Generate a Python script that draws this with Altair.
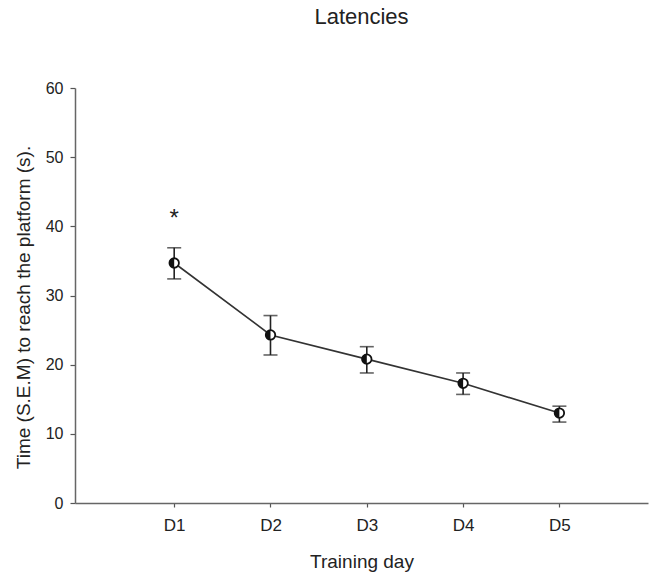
import altair as alt
import pandas as pd

days = ["D1", "D2", "D3", "D4", "D5"]
day_index = [1, 2, 3, 4, 5]
mean_latency = [34.7, 24.3, 20.8, 17.3, 13.0]
sem_low = [32.4, 21.4, 18.8, 15.7, 11.7]
sem_high = [36.9, 27.1, 22.6, 18.8, 14.0]
star_day = [1]
star_value = [41.9]
star_text = ["*"]

df = pd.DataFrame({"day": days, "idx": day_index, "mean": mean_latency,
                   "lo": sem_low, "hi": sem_high})
stars = pd.DataFrame({"idx": star_day, "v": star_value, "t": star_text})

FONT = "Liberation Sans"
x_scale = alt.Scale(domain=[-0.03, 5.92], nice=False, zero=False)
y_scale = alt.Scale(domain=[0, 60], nice=False)

XT = "Training day"
YT = "Time (S.E.M) to reach the platform (s)."

x_axis = alt.Axis(
    title=XT, values=day_index,
    labelExpr="'D' + datum.value", grid=False, labelFlush=False,
    domainColor="#666", domainWidth=1.5, tickColor="#555", tickWidth=1.2, tickSize=4,
    labelFont=FONT, labelFontSize=17, labelColor="#222", labelPadding=10,
    titleFont=FONT, titleFontSize=19, titleFontWeight="normal", titleColor="#222",
    titleY=64, titleBaseline="alphabetic", titleAlign="center")
y_axis = alt.Axis(
    title=YT, values=[0, 10, 20, 30, 40, 50, 60],
    grid=False, domainColor="#666", domainWidth=1.5, tickColor="#555", tickWidth=1.2,
    tickSize=5, labelFont=FONT, labelFontSize=16, labelColor="#222", labelPadding=7,
    titleFont=FONT, titleFontSize=19, titleFontWeight="normal", titleColor="#222",
    titleX=-52, titleY=219, titleAngle=-90, titleAlign="center", titleBaseline="middle")


def X(field):
    return alt.X(field, scale=x_scale, axis=x_axis, title=XT)


def Y(field):
    return alt.Y(field, scale=y_scale, axis=y_axis, title=YT)


base = alt.Chart(df)

line = base.mark_line(color="#333", strokeWidth=1.6).encode(x=X("idx:Q"), y=Y("mean:Q"))

err = base.mark_errorbar(ticks={"size": 14, "thickness": 1.6, "color": "#222"},
                         color="#222", thickness=1.6).encode(
    x=X("idx:Q"), y=Y("lo:Q"), y2="hi:Q")

pt_white = base.mark_point(shape="circle", filled=True, fill="white", stroke="#111",
                           strokeWidth=1.8, size=90, opacity=1).encode(
    x=X("idx:Q"), y=Y("mean:Q"))
pt_half = base.mark_point(shape="M0,-1A1,1 0 0,0 0,1Z", filled=True, fill="#111",
                          size=90, opacity=1, strokeWidth=0).encode(
    x=X("idx:Q"), y=Y("mean:Q"))

star = alt.Chart(stars).mark_text(font=FONT, fontSize=24, color="#222",
                                  baseline="middle", dy=6).encode(
    x=X("idx:Q"), y=Y("v:Q"), text="t:N")

chart = alt.layer(line, err, pt_white, pt_half, star).properties(
    width=573, height=415,
    autosize="none",
    background="white",
    padding={"left": 75, "top": 88, "right": 10, "bottom": 71},
    title=alt.TitleParams("Latencies", font=FONT, fontSize=22, fontWeight="normal",
                          color="#222", anchor="middle", offset=51),
).configure_view(strokeWidth=0, stroke="transparent")

chart.save("out.html", embed_options={"renderer": "svg", "actions": False})
